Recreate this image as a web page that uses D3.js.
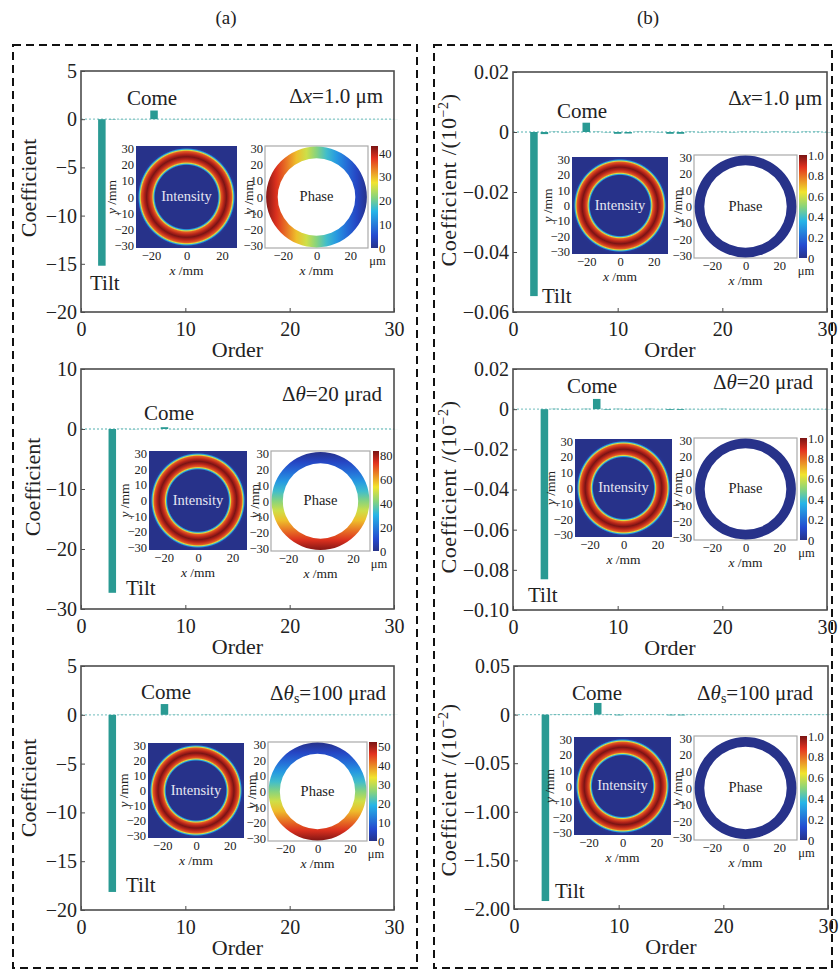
<!DOCTYPE html>
<html>
<head>
<meta charset="utf-8">
<script src="https://cdn.jsdelivr.net/npm/d3@7"></script>
<style>
  body { margin: 0; background: #fff; }
  svg { display: block; }
  text { font-family: "Liberation Serif", "Times New Roman", serif; fill: #222; }
</style>
</head>
<body>
<svg id="fig" width="839" height="971"></svg>
<script>
// Zernike orders on the x axis
const orders = [1, 2, 3, 4, 5, 6, 7, 8, 9, 10, 11, 12, 13, 14, 15,
                16, 17, 18, 19, 20, 21, 22, 23, 24, 25, 26, 27, 28, 29, 30];

// coefficients, (a) column
const coefA1 = [0, -15.2, -0.04, 0.02, -0.02, 0.02, 0.9, 0.01, -0.02, 0.02, 0.01, -0.01, 0.02, 0.01, -0.02,
                0.01, 0.01, -0.01, 0.01, 0.01, -0.01, 0.01, 0.01, -0.01, 0.01, 0.01, -0.01, 0.01, 0.01, -0.01];
const coefA2 = [0, 0, -27.3, 0.02, -0.03, 0.02, 0.01, 0.3, -0.02, 0.01, 0.02, -0.01, 0.01, 0.02, -0.01,
                0.01, 0.01, -0.02, 0.01, 0.01, -0.01, 0.01, 0.02, -0.01, 0.01, 0.01, -0.01, 0.01, 0.01, -0.01];
const coefA3 = [0, 0, -18.15, 0.02, -0.02, 0.01, 0.02, 1.1, -0.02, 0.01, 0.01, -0.02, 0.01, 0.02, -0.01,
                0.01, 0.01, -0.01, 0.02, 0.01, -0.01, 0.01, 0.01, -0.02, 0.01, 0.01, -0.01, 0.01, 0.01, -0.01];
// (b) column
const coefB1 = [0, -0.0547, -0.0007, 0.0001, -0.0001, 0.0001, 0.0031, 0.0001, -0.0001, -0.0006, -0.0005, 0.0001, 0.0001, -0.0001, -0.0006,
                -0.0006, 0.0001, -0.0001, 0.0001, 0.0001, -0.0001, 0.0001, 0.0001, -0.0001, 0.0001, 0.0001, -0.0001, 0.0001, 0.0001, -0.0001];
const coefB2 = [0, 0, -0.0847, 0.0002, -0.0002, 0.0001, 0.0002, 0.0051, -0.0003, 0.0002, -0.0002, 0.0001, 0.0002, -0.0001, -0.0004,
                -0.0004, 0.0001, -0.0001, 0.0001, 0.0002, -0.0001, 0.0001, 0.0001, -0.0001, 0.0001, 0.0001, -0.0001, 0.0001, 0.0001, -0.0001];
const coefB3 = [0, 0, -0.1918, 0.0003, -0.0003, 0.0002, 0.0003, 0.012, -0.0004, -0.0008, 0.0002, -0.0002, 0.0002, -0.0002, -0.0008,
                -0.0008, 0.0002, -0.0002, 0.0002, 0.0002, -0.0002, 0.0002, 0.0002, -0.0002, 0.0002, 0.0002, -0.0002, 0.0002, 0.0002, -0.0002];

// y ticks and their printed labels
const yTicksA1 = [5, 0, -5, -10, -15, -20];
const yLabelsA1 = ["5", "0", "−5", "−10", "−15", "−20"];
const yTicksA2 = [10, 0, -10, -20, -30];
const yLabelsA2 = ["10", "0", "−10", "−20", "−30"];
const yTicksA3 = [5, 0, -5, -10, -15, -20];
const yLabelsA3 = ["5", "0", "−5", "−10", "−15", "−20"];
const yTicksB1 = [0.02, 0, -0.02, -0.04, -0.06];
const yLabelsB1 = ["0.02", "0", "−0.02", "−0.04", "−0.06"];
const yTicksB2 = [0.02, 0, -0.02, -0.04, -0.06, -0.08, -0.10];
const yLabelsB2 = ["0.02", "0", "−0.02", "−0.04", "−0.06", "−0.08", "−0.10"];
const yTicksB3 = [0.05, 0, -0.05, -0.10, -0.15, -0.20];
const yLabelsB3 = ["0.05", "0", "−0.05", "−1.00", "−1.50", "−2.00"];
const xTicks = [0, 10, 20, 30];

// inset maps
const insetYTicks = [30, 20, 10, 0, -10, -20, -30];
const insetXTicks = [-20, 0, 20];
const ringRadius = [0, 18.6, 19.3, 19.9, 20.6, 22.2, 23.7, 25.2, 26.8, 27.5, 28.1, 28.8, 30];      // mm
const ringIntensity = [0, 0, 0.33, 0.6, 0.83, 0.93, 1, 0.93, 0.83, 0.6, 0.33, 0.02, 0];
const cbMax = [43, 84, 52.5, 1, 1, 1];
const cbTicksA1 = [0, 10, 20, 30, 40];
const cbTicksA2 = [0, 20, 40, 60, 80];
const cbTicksA3 = [0, 10, 20, 30, 40, 50];
const cbTicksB = [0, 0.2, 0.4, 0.6, 0.8, 1.0];
const cbLabelsB = ["0", "0.2", "0.4", "0.6", "0.8", "1.0"];
const phaseFrom = [42.5, 0, 0, 0, 0, 0];   // value at left (x) or top (y) of ring
const phaseTo = [0, 83, 52, 0, 0, 0];      // value at right or bottom
const phaseAxis = ["x", "y", "y", "y", "y", "y"];

const deltaX = ["Δ", "x", "", "=1.0 μm"];
const deltaT = ["Δ", "θ", "", "=20 μrad"];
const deltaTs = ["Δ", "θ", "s", "=100 μrad"];

const barColor = "#2a9a93";
const jet = d3.scaleLinear()
    .domain([0, 0.12, 0.36, 0.5, 0.64, 0.88, 1])
    .range(["#27328a", "#2449cf", "#27b5e7", "#8ad47a", "#f1e42e", "#e3321f", "#7a1414"])
    .clamp(true);

const panels = [
    { coef: coefA1, yT: yTicksA1, yL: yLabelsA1, yDom: [-20, 5], box: [81, 71, 394, 312], ytx: 28, yty: 188, col: "a",
      come: [127, 105], tilt: [90, 290], delta: deltaX, dpos: [383, 103],
      int: [136, 146, 101, 102], pha: [265, 146, 103, 102], cb: [371, 146, 7, 102], cbT: cbTicksA1, cbL: null, ring: 0.77 },
    { coef: coefA2, yT: yTicksA2, yL: yLabelsA2, yDom: [-30, 10], box: [81, 369, 394, 609], ytx: 32, yty: 487, col: "a",
      come: [144, 420], tilt: [126, 595], delta: deltaT, dpos: [382, 401],
      int: [149, 451, 98, 99], pha: [271, 451, 99, 100], cb: [373, 451, 6, 100], cbT: cbTicksA2, cbL: null, ring: 0.77 },
    { coef: coefA3, yT: yTicksA3, yL: yLabelsA3, yDom: [-20, 5], box: [81, 666, 394, 910], ytx: 28, yty: 788, col: "a",
      come: [141, 699], tilt: [126, 892], delta: deltaTs, dpos: [386, 700],
      int: [148, 743, 96, 95], pha: [268, 742, 99, 99], cb: [369, 742, 8, 99], cbT: cbTicksA3, cbL: null, ring: 0.77 },
    { coef: coefB1, yT: yTicksB1, yL: yLabelsB1, yDom: [-0.06, 0.02], box: [513, 72, 827, 312], ytx: 448, yty: 180, col: "b",
      come: [557, 118], tilt: [542, 303], delta: deltaX, dpos: [822, 105],
      int: [572, 157, 96, 97], pha: [694, 155, 103, 103], cb: [799, 155, 8, 103], cbT: cbTicksB, cbL: cbLabelsB, ring: 0.81 },
    { coef: coefB2, yT: yTicksB2, yL: yLabelsB2, yDom: [-0.10, 0.02], box: [513, 369, 827, 610], ytx: 448, yty: 487, col: "b",
      come: [567, 393], tilt: [528, 602], delta: deltaT, dpos: [813, 389],
      int: [575, 439, 97, 98], pha: [694, 438, 103, 102], cb: [800, 438, 7, 102], cbT: cbTicksB, cbL: cbLabelsB, ring: 0.81 },
    { coef: coefB3, yT: yTicksB3, yL: yLabelsB3, yDom: [-0.20, 0.05], box: [514, 666, 828, 909], ytx: 448, yty: 790, col: "b",
      come: [572, 700], tilt: [555, 898], delta: deltaTs, dpos: [813, 700],
      int: [574, 737, 97, 98], pha: [694, 736, 103, 104], cb: [800, 736, 7, 104], cbT: cbTicksB, cbL: cbLabelsB, ring: 0.81 }
];

const svg = d3.select("#fig");
const defs = svg.append("defs");

// dashed frames and column titles
svg.append("rect").attr("x", 13).attr("y", 45).attr("width", 404).attr("height", 923)
    .attr("fill", "none").attr("stroke", "#111").attr("stroke-width", 2).attr("stroke-dasharray", "8,5");
svg.append("rect").attr("x", 434).attr("y", 45).attr("width", 398).attr("height", 923)
    .attr("fill", "none").attr("stroke", "#111").attr("stroke-width", 2).attr("stroke-dasharray", "8,5");
svg.append("text").attr("x", 226).attr("y", 24).attr("text-anchor", "middle").attr("font-size", 19).text("(a)");
svg.append("text").attr("x", 648).attr("y", 24).attr("text-anchor", "middle").attr("font-size", 19).text("(b)");

function styleAxis(a, size) {
    a.select(".domain").remove();
    a.attr("font-family", null).attr("font-size", size);
    a.selectAll("text").attr("fill", "#222");
    a.selectAll("line").attr("stroke", "#4d4d4d");
}

function drawPanel(p, i) {
    const g = svg.append("g");
    const [x0, y0, x1, y1] = p.box;
    const x = d3.scaleLinear().domain([0, 30]).range([x0, x1]);
    const y = d3.scaleLinear().domain(p.yDom).range([y1, y0]);

    g.append("rect").attr("x", x0).attr("y", y0).attr("width", x1 - x0).attr("height", y1 - y0)
        .attr("fill", "#fff");

    // zero line
    g.append("line").attr("x1", x0).attr("x2", x1).attr("y1", y(0)).attr("y2", y(0))
        .attr("stroke", "#8ccaca").attr("stroke-width", 1.3).attr("stroke-dasharray", "2,2");

    // bars
    g.selectAll(".bar")
        .data(orders.map((o, k) => ({ o, v: p.coef[k] })))
        .join("rect")
        .attr("class", "bar")
        .attr("x", d => x(d.o - 0.36))
        .attr("width", d => x(d.o + 0.36) - x(d.o - 0.36))
        .attr("y", d => y(Math.max(0, d.v)))
        .attr("height", d => Math.abs(y(d.v) - y(0)))
        .attr("fill", barColor);

    g.append("rect").attr("x", x0).attr("y", y0).attr("width", x1 - x0).attr("height", y1 - y0)
        .attr("fill", "none").attr("stroke", "#4d4d4d").attr("stroke-width", 1.6);

    const ay = g.append("g").attr("transform", `translate(${x0},0)`)
        .call(d3.axisLeft(y).tickValues(p.yT).tickFormat((d, k) => p.yL[k]).tickSize(-4).tickPadding(4));
    styleAxis(ay, 20);
    const ax = g.append("g").attr("transform", `translate(0,${y1})`)
        .call(d3.axisBottom(x).tickValues(xTicks).tickFormat(d3.format("d")).tickSize(-4).tickPadding(10));
    styleAxis(ax, 20);

    g.append("text").attr("x", (x0 + x1) / 2).attr("y", y1 + 45).attr("text-anchor", "middle")
        .attr("font-size", 22).text("Order");

    const yt = g.append("text").attr("transform", `translate(${p.ytx},${p.yty}) rotate(-90)`)
        .attr("text-anchor", "middle").attr("dy", "0.35em").attr("font-size", 22);
    if (p.col === "a") {
        yt.text("Coefficient");
    } else {
        yt.attr("letter-spacing", 0.6);
        yt.append("tspan").text("Coefficient /(10");
        yt.append("tspan").attr("dy", -8).attr("font-size", 14).text("−2");
        yt.append("tspan").attr("dy", 8).text(")");
    }

    // annotations
    g.append("text").attr("x", p.come[0]).attr("y", p.come[1]).attr("font-size", 21).text("Come");
    g.append("text").attr("x", p.tilt[0]).attr("y", p.tilt[1]).attr("font-size", 21).text("Tilt");
    const dt = g.append("text").attr("x", p.dpos[0]).attr("y", p.dpos[1]).attr("text-anchor", "end").attr("font-size", 21);
    dt.append("tspan").text(p.delta[0]);
    dt.append("tspan").attr("font-style", "italic").text(p.delta[1]);
    if (p.delta[2]) {
        dt.append("tspan").attr("font-size", 14).attr("dy", 3).text(p.delta[2]);
        dt.append("tspan").attr("dy", -3).text(p.delta[3]);
    } else {
        dt.append("tspan").text(p.delta[3]);
    }

    drawInsets(g, p, i);
}

function insetAxes(g, bx, by, bw, bh, xr, yr, lblOff) {
    const xs = d3.scaleLinear().domain([-xr, xr]).range([bx, bx + bw]);
    const ys = d3.scaleLinear().domain([-yr, yr]).range([by + bh, by]);
    const ay = g.append("g").attr("transform", `translate(${bx},0)`)
        .call(d3.axisLeft(ys).tickValues(insetYTicks).tickFormat(d => d < 0 ? "−" + (-d) : d).tickSize(0).tickPadding(2));
    styleAxis(ay, 12.5);
    const ax = g.append("g").attr("transform", `translate(0,${by + bh})`)
        .call(d3.axisBottom(xs).tickValues(insetXTicks).tickFormat(d => d < 0 ? "−" + (-d) : d).tickSize(0).tickPadding(3));
    styleAxis(ax, 12.5);
    const xl = g.append("text").attr("x", bx + bw / 2).attr("y", by + bh + 27).attr("text-anchor", "middle").attr("font-size", 13.5);
    xl.append("tspan").attr("font-style", "italic").text("x");
    xl.append("tspan").text(" /mm");
    const yl = g.append("text").attr("transform", `translate(${bx - lblOff},${by + bh / 2}) rotate(-90)`)
        .attr("text-anchor", "middle").attr("dy", "0.35em").attr("font-size", 13.5);
    yl.append("tspan").attr("font-style", "italic").text("y");
    yl.append("tspan").text(" /mm");
}

const ringOffset = d3.scaleLinear().domain([0, 30]).range([0, 1]).clamp(true);

function drawInsets(g, p, i) {
    // intensity map
    const [ix, iy, iw, ih] = p.int;
    const rg = defs.append("radialGradient").attr("id", "int" + i)
        .attr("cx", "50%").attr("cy", "50%").attr("r", "50%");
    rg.selectAll("stop")
        .data(ringRadius.map((r, k) => ({ r, v: ringIntensity[k] })))
        .join("stop")
        .attr("offset", d => ringOffset(d.r))
        .attr("stop-color", d => jet(d.v));
    g.append("rect").attr("x", ix).attr("y", iy).attr("width", iw).attr("height", ih)
        .attr("fill", `url(#int${i})`);
    g.append("text").attr("x", ix + iw / 2).attr("y", iy + ih / 2 + 4).attr("text-anchor", "middle")
        .attr("font-size", 14.5).style("fill", "#e6e6f2").text("Intensity");
    insetAxes(g, ix, iy, iw, ih, 28.5, 31.5, 25);

    // phase map
    const [px, py, pw, ph] = p.pha;
    g.append("rect").attr("x", px).attr("y", py).attr("width", pw).attr("height", ph)
        .attr("fill", "#fff").attr("stroke", "#aaa").attr("stroke-width", 1.2);
    const lg = defs.append("linearGradient").attr("id", "pha" + i)
        .attr("x1", 0).attr("y1", 0)
        .attr("x2", phaseAxis[i] === "x" ? 1 : 0).attr("y2", phaseAxis[i] === "y" ? 1 : 0);
    const tSteps = [0, 0.1, 0.2, 0.3, 0.4, 0.5, 0.6, 0.7, 0.8, 0.9, 1];
    lg.selectAll("stop").data(tSteps).join("stop")
        .attr("offset", t => t)
        .attr("stop-color", t => jet((phaseFrom[i] + (phaseTo[i] - phaseFrom[i]) * t) / cbMax[i]));
    const R = Math.min(pw, ph) / 2 - 0.6;
    const arc = d3.arc().innerRadius(R * p.ring).outerRadius(R).startAngle(0).endAngle(2 * Math.PI);
    g.append("path").attr("transform", `translate(${px + pw / 2},${py + ph / 2})`)
        .attr("d", arc()).attr("fill", `url(#pha${i})`);
    g.append("text").attr("x", px + pw / 2).attr("y", py + ph / 2 + 4).attr("text-anchor", "middle")
        .attr("font-size", 14.5).text("Phase");
    insetAxes(g, px, py, pw, ph, 30.5, 31.5, 17);

    // colour bar
    const [cx, cy, cw, ch] = p.cb;
    const cg = defs.append("linearGradient").attr("id", "cb" + i)
        .attr("x1", 0).attr("y1", 1).attr("x2", 0).attr("y2", 0);
    cg.selectAll("stop").data(jet.domain()).join("stop")
        .attr("offset", d => d).attr("stop-color", d => jet(d));
    g.append("rect").attr("x", cx).attr("y", cy).attr("width", cw).attr("height", ch)
        .attr("fill", `url(#cb${i})`);
    const cs = d3.scaleLinear().domain([0, cbMax[i]]).range([cy + ch, cy]);
    const ac = g.append("g").attr("transform", `translate(${cx + cw},0)`)
        .call(d3.axisRight(cs).tickValues(p.cbT)
            .tickFormat((d, k) => p.cbL ? p.cbL[k] : d).tickSize(0).tickPadding(1));
    styleAxis(ac, 12.5);
    g.append("text").attr("x", cx + cw / 2 + 3).attr("y", cy + ch + 17).attr("text-anchor", "middle")
        .attr("font-size", 12.5).text("μm");
}

panels.forEach(drawPanel);
</script>
</body>
</html>
